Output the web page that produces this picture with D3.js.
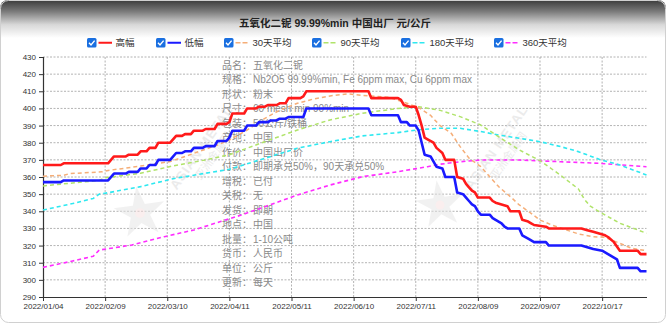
<!DOCTYPE html>
<html><head><meta charset="utf-8">
<script src="https://cdn.jsdelivr.net/npm/d3@7"></script>
<style>html,body{margin:0;padding:0;background:#fff;}svg{display:block;}</style>
</head><body>
<script>
// ---------- data ----------
const titleText = "五氧化二铌 99.99%min 中国出厂 元/公斤";
const seriesNames = ["高幅","低幅","30天平均","90天平均","180天平均","360天平均"];
const xTickLabels = ["2022/01/04","2022/02/09","2022/03/10","2022/04/11","2022/05/11","2022/06/10","2022/07/11","2022/08/09","2022/09/07","2022/10/17"];
const categoryCount = 205;      // trading days on the category axis
const labelInterval = 21;       // one label every 21 categories
const yTicks = [290,300,310,320,330,340,350,360,370,380,390,400,410,420,430];

// [category index, value]
const high = [[0,367],[6,367],[7,368],[22,368],[24,372],[28,372],[29,373],[32,373],[33,375],[35,375],[36,377],[38,377],[39,380],[43,380],[45,384],[47,384],[48,385],[50,385],[51,387],[54,387],[55,388],[58,388],[59,391],[62,391],[63,392],[64,397],[68,397],[69,400],[72,400],[73,401],[75,401],[76,402],[79,402],[80,403],[82,403],[83,406],[87,406],[88,407],[89,410],[110,410],[111,406],[120,406],[121,405],[122,402],[124,401],[126,401],[127,396],[128,390],[129,383],[130,382],[132,380],[133,377],[135,374],[136,370],[139,370],[140,360],[142,359],[143,356],[144,354],[145,352],[146,351],[147,348],[151,348],[152,346],[153,345],[157,343],[158,340],[161,340],[162,335],[164,334],[165,333],[166,332],[170,331],[171,330],[182,330],[184,329],[186,328],[188,327],[190,326],[191,325],[193,322],[195,317],[201,317],[202,315],[204,315]];
const low = [[0,357],[6,357],[7,358],[22,358],[24,362],[28,362],[29,363],[32,363],[33,365],[35,365],[36,367],[38,367],[39,370],[43,370],[45,374],[47,374],[48,375],[50,375],[51,377],[54,377],[55,378],[58,378],[59,381],[62,381],[63,383],[64,387],[68,387],[69,390],[72,390],[73,392],[76,392],[77,393],[79,393],[80,394],[82,394],[83,395],[88,395],[89,400],[110,400],[111,396],[120,396],[121,392],[123,392],[124,390],[126,390],[127,387],[128,380],[129,373],[131,372],[133,366],[135,365],[136,360],[139,360],[140,351],[142,350],[143,348],[144,346],[145,344],[146,343],[147,340],[148,338],[151,338],[152,336],[153,335],[155,333],[156,331],[157,330],[161,330],[162,326],[164,324],[165,323],[166,322],[170,322],[171,320],[182,320],[184,319],[186,318],[189,317],[191,315],[193,313],[194,312],[195,307],[201,307],[202,305],[204,305]];
const avg30 = [[0,360.5],[7,361],[9,362],[20,363],[22,363.8],[33,366.4],[43,369],[51,373.8],[59,378.7],[63,381.6],[69,387.4],[75,394.2],[80,399],[86,403],[91,405.3],[97,407.3],[103,408.5],[110,407.3],[117,406.5],[123,403],[127,400.5],[131,396],[134,390.3],[138,385.5],[141,377.7],[144,371],[148,366],[151,360.2],[154,354.4],[158,348.5],[161,343.7],[165,338.8],[168,334.9],[172,332],[177,329.1],[181,326.8],[186,325.2],[190,324.8],[195,321.3],[199,318.4],[204,317]];
const avg90 = [[0,354.8],[10,356.5],[19,358],[21,359.5],[33,362.2],[44,366.5],[55,370],[63,373],[75,380.6],[86,387.4],[97,393.3],[108,397.2],[120,400],[127,401],[134,399],[141,395.2],[148,390.3],[154,383.5],[161,375.8],[168,369.5],[175,361],[181,353],[183,347],[185,343],[188,339.8],[195,333],[204,327.2]];
const avg180 = [[0,340.7],[10,344.5],[17,347.5],[19,350],[22,350.8],[33,354.4],[44,359],[55,362.2],[63,364.5],[75,370.9],[86,376.8],[97,380.6],[108,384],[120,385.9],[127,387.6],[134,388.4],[141,388.4],[148,386.5],[154,384.5],[161,382.6],[168,380.6],[175,377.7],[181,374.8],[188,370.3],[195,367],[204,361.2]];
const avg360 = [[0,307.3],[10,311],[17,313.8],[19,317.4],[30,320.3],[41,325.2],[51,329.1],[60,334],[67,337.8],[75,342.7],[86,349.5],[97,355.3],[108,360.2],[120,363.1],[130,366],[134,367.4],[141,368.9],[148,369.9],[161,369.9],[175,368.9],[188,368],[204,366]];

const infoLabels = ["品名","规格","形状","尺寸","包装","产地","作价","付款","增税","关税","发货","地点","批量","货币","单位","更新"];
const infoValues = ["五氧化二铌","Nb2O5 99.99%min, Fe 6ppm max, Cu 6ppm max","粉末","60 mesh min 90%min","50公斤/铁桶","中国","中国出厂价","即期承兑50%，90天承兑50%","已付","无","即期","中国","1-10公吨","人民币","公斤","每天"];

// ---------- styles ----------
const seriesData = [high, low, avg30, avg90, avg180, avg360];
const colors = ["#ff1a1a","#1a1aff","#f5ae78","#b0e36a","#2ee8f0","#ff2cff"];
const widths = [2.6,2.6,1.5,1.5,1.6,1.6];
const dashes = [null,null,"4,3","4,3","4,3","4,3"];
const FONT = "'Liberation Sans','Noto Sans CJK SC',sans-serif";

const W = 666, H = 323;
const svg = d3.select("body").append("svg").attr("width", W).attr("height", H);
const defs = svg.append("defs");
const grad = defs.append("linearGradient").attr("id","topg").attr("x1",0).attr("y1",0).attr("x2",0).attr("y2",1);
[[0,"#3a3a3a"],[0.3,"#7a7a7a"],[0.65,"#d8d8d8"],[1,"#ffffff"]].forEach(s=>grad.append("stop").attr("offset",s[0]).attr("stop-color",s[1]));
defs.append("clipPath").attr("id","card").append("rect").attr("x",0).attr("y",0).attr("width",W).attr("height",H).attr("rx",8);

const card = svg.append("g").attr("clip-path","url(#card)");
card.append("rect").attr("width",W).attr("height",H).attr("fill","#fff");
card.append("rect").attr("width",W).attr("height",38).attr("fill","url(#topg)");
svg.append("rect").attr("x",0.5).attr("y",0.5).attr("width",W-1).attr("height",H-1).attr("rx",8)
  .attr("fill","none").attr("stroke","#d0d0d0");

// title
svg.append("text").attr("x",335).attr("y",27).attr("text-anchor","middle")
  .attr("font-family",FONT).attr("font-size",10.5).attr("font-weight","bold").attr("fill","#222").text(titleText);

// legend
const legendX = [87,156,224,312,401,494];
const lg = svg.append("g").attr("font-family",FONT).attr("font-size",9.5).attr("fill","#333");
seriesNames.forEach((n,i)=>{
  const g = lg.append("g").attr("transform",`translate(${legendX[i]},38)`);
  g.append("rect").attr("width",9.5).attr("height",9.5).attr("rx",1.5).attr("fill","#1a6fe0");
  g.append("path").attr("d","M2,4.8 L4,7 L7.6,2.6").attr("fill","none").attr("stroke","#fff").attr("stroke-width",1.4);
  g.append("line").attr("x1",11.5).attr("x2",25).attr("y1",4.75).attr("y2",4.75)
    .attr("stroke",colors[i]).attr("stroke-width",i<2?2:1.5).attr("stroke-dasharray",i<2?null:"5,2");
  g.append("text").attr("x",28.5).attr("y",8.3).text(n);
});

// scales
const x = d3.scaleLinear().domain([0, categoryCount-1]).range([43, 646.5]);
const y = d3.scaleLinear().domain([290,430]).range([297,57]);

// grid
const grid = svg.append("g").attr("stroke","#a0a0a0").attr("stroke-width",0.8).attr("stroke-dasharray","2,1.5");
yTicks.slice(1).forEach(t=>grid.append("line").attr("x1",x(0)).attr("x2",x.range()[1]).attr("y1",y(t)).attr("y2",y(t)));
xTickLabels.forEach((l,k)=>{ if(k>0) grid.append("line").attr("x1",x(k*labelInterval)).attr("x2",x(k*labelInterval)).attr("y1",y(430)).attr("y2",y(290)); });

// watermarks
function watermark(tx,ty,sx,sy,r){
  const g = svg.append("g").attr("opacity",0.5);
  g.append("path").attr("d",d3.symbol(d3.symbolStar, r*r*1.1)()).attr("transform",`translate(${sx},${sy}) rotate(-8)`)
    .attr("fill","#e4e4e4");
  g.append("circle").attr("cx",sx).attr("cy",sy).attr("r",r*0.18).attr("fill","#f6dede");
  const t = g.append("g").attr("transform",`translate(${tx},${ty}) rotate(-55)`).attr("font-family",FONT).attr("fill","#d8d8d8");
  t.append("text").attr("text-anchor","middle").attr("font-size",13).attr("font-weight","bold").attr("letter-spacing",1).text("ASIAN METAL");
  t.append("text").attr("text-anchor","middle").attr("y",14).attr("font-size",11).text("亚洲金属网");
}
watermark(205,150,140,213,27);
watermark(500,150,440,205,25);

// info block
const info = svg.append("g").attr("font-family",FONT).attr("font-size",10).attr("fill","#8a8a8a");
infoLabels.forEach((l,k)=>{
  const yy = 65 + k*14.5 + 3.6;
  info.append("text").attr("x",222).attr("y",yy).text(l+"：");
  info.append("text").attr("x",253).attr("y",yy).text(infoValues[k]);
});

// axes
const yAxis = d3.axisLeft(y).tickValues(yTicks).tickSize(4).tickPadding(3);
const ya = svg.append("g").attr("transform",`translate(${x(0)},0)`).call(yAxis);
ya.selectAll("text").attr("font-family",FONT).attr("font-size",8).attr("fill","#333");
ya.selectAll("line,path").attr("stroke","#333");
ya.select(".domain").attr("stroke-width",1.2);
const xAxis = d3.axisBottom(x).tickValues(xTickLabels.map((d,k)=>k*labelInterval))
  .tickFormat((d,k)=>xTickLabels[k]).tickSize(4).tickSizeOuter(0).tickPadding(2);
const xa = svg.append("g").attr("transform",`translate(0,${y(290)})`).call(xAxis);
xa.selectAll("text").attr("font-family",FONT).attr("font-size",8).attr("fill","#333");
xa.selectAll("line,path").attr("stroke","#333");
xa.select(".domain").attr("stroke-width",1.2);

// lines
const line = d3.line().x(d=>x(d[0])).y(d=>y(d[1]));
[5,4,3,2,1,0].forEach(i=>{
  svg.append("path").datum(seriesData[i]).attr("d",line).attr("fill","none")
    .attr("stroke",colors[i]).attr("stroke-width",widths[i]).attr("stroke-dasharray",dashes[i])
    .attr("stroke-linejoin","round");
});
</script>
</body></html>
